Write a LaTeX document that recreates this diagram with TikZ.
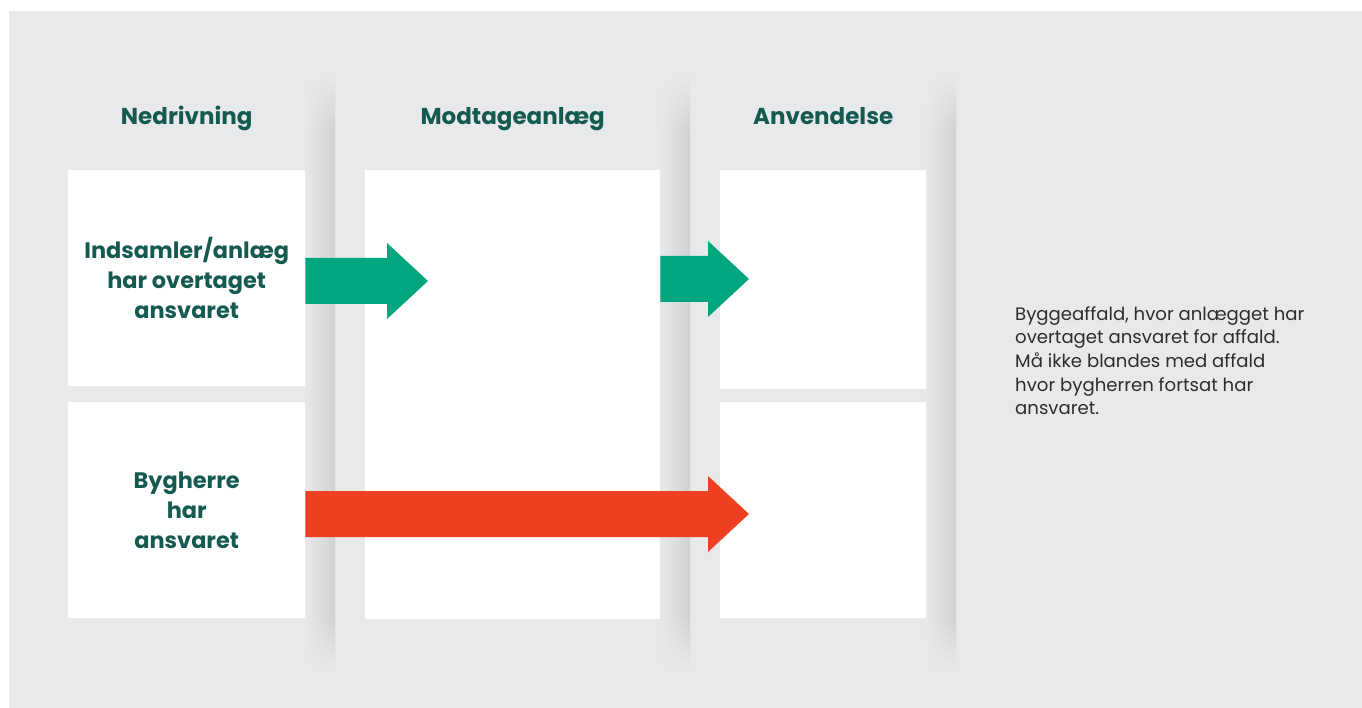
\documentclass[tikz,border=0pt]{standalone}
\usepackage{fontspec}
\setmainfont{Poppins}
\usetikzlibrary{positioning,calc}

\definecolor{bggray}{RGB}{232,233,235}
\definecolor{shadegray}{RGB}{208,209,211}
\definecolor{headteal}{RGB}{21,90,81}
\definecolor{flowgreen}{RGB}{0,167,126}
\definecolor{flowred}{RGB}{239,64,35}
\definecolor{notegray}{RGB}{45,45,48}

\tikzset{
	whitebox/.style={fill=white, inner sep=0pt, anchor=north west, align=center,
		text=headteal, font=\fontsize{22.4}{30}\selectfont\bfseries},
	coltitle/.style={inner sep=0pt, text depth=0pt, text=headteal,
		font=\fontsize{23}{26}\selectfont\bfseries},
	note/.style={inner sep=0pt, anchor=north west, align=left, text=notegray,
		font=\fontsize{18.1}{23.7}\selectfont}
}

% block arrow: start, tip, colour
\newcommand{\flowarrow}[3]{%
	\fill[#3] ($(#1)+(0,-23)$) -- ($(#2)+(-41,-23)$) -- ($(#2)+(-41,-38)$) -- (#2)
		-- ($(#2)+(-41,38)$) -- ($(#2)+(-41,23)$) -- ($(#1)+(0,23)$) -- cycle;}

\begin{document}
\begin{tikzpicture}[x=1pt,y=-1pt]
	\useasboundingbox (0,0) rectangle (1362,708);
	\fill[bggray] (9,11) rectangle (1362,708);

	% shadows right of the columns, fading out at both ends
	\foreach \sx in {305,660,926} {
		\fill[left color=bggray, right color=shadegray] (\sx,130) rectangle (\sx+30,620);
		\foreach \i in {1,...,25} {
			\pgfmathsetmacro{\p}{100-4*\i}
			\fill[left color=bggray, right color=shadegray!\p!bggray] (\sx,129.5-2.2*\i) rectangle (\sx+30,132.2-2.2*\i);
			\fill[left color=bggray, right color=shadegray!\p!bggray] (\sx,617.5+2*\i) rectangle (\sx+30,620.5+2*\i);
		}
	}

	\node[whitebox, minimum width=237pt, minimum height=216pt] (nedtop) at (68,170) {Indsamler/anlæg\\har overtaget\\ansvaret};
	\node[whitebox, minimum width=237pt, minimum height=216pt] (nedbot) at (68,402) {Bygherre\\har\\ansvaret};
	\node[whitebox, minimum width=295pt, minimum height=449pt] (modt) at (365,170) {};
	\node[whitebox, minimum width=206pt, minimum height=219pt] (anvtop) at (720,170) {};
	\node[whitebox, minimum width=206pt, minimum height=216pt] (anvbot) at (720,402) {};

	\node[coltitle, above=45pt of nedtop] (tned) {Nedrivning};
	\node[coltitle, above=45pt of modt.north] (tmodt) {Modtageanlæg};
	\node[coltitle, above=45pt of anvtop] (tanv) {Anvendelse};

	\coordinate (tipA) at (428,281);
	\coordinate (tipB) at (749,279);
	\coordinate (tipC) at (749,514);
	\coordinate (startA) at (nedtop.east |- tipA);
	\coordinate (startB) at (modt.east |- tipB);
	\coordinate (startC) at (nedbot.east |- tipC);
	\flowarrow{startA}{tipA}{flowgreen}
	\flowarrow{startB}{tipB}{flowgreen}
	\flowarrow{startC}{tipC}{flowred}

	\node[note] (txt) at (1015,306) {Byggeaffald, hvor anlægget har\\overtaget ansvaret for affald.\\Må ikke blandes med affald\\hvor bygherren fortsat har\\ansvaret.};
\end{tikzpicture}
\end{document}
